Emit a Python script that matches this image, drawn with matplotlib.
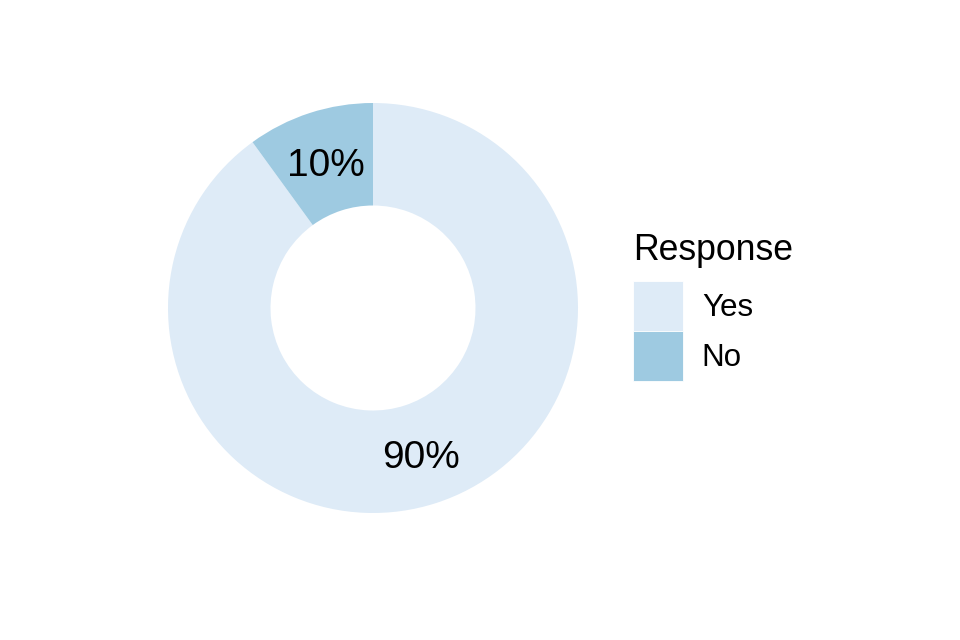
import matplotlib.pyplot as plt
from matplotlib.patches import Patch
import matplotlib.transforms as mtransforms
import numpy as np

plt.rcParams['font.family'] = ['Liberation Sans', 'DejaVu Sans']

# Données
reponses = ['Yes', 'No']
valeurs = [90, 10]
etiquettes = ['90%', '10%']
couleurs = ['#deebf7', '#9ecae1']

fig = plt.figure(figsize=(9.6, 6.4), dpi=100)

# Anneau centré vers (373, 308) px, rayon extérieur 205 px
ax = fig.add_axes([168 / 960, 127 / 640, 410 / 960, 410 / 640])
wedges, _ = ax.pie(valeurs, colors=couleurs, startangle=90, counterclock=False,
                   radius=1, wedgeprops=dict(width=0.5, edgecolor='none'))

# Étiquettes au milieu de l'anneau (chiffres centrés : ligne de base abaissée de la moitié de la hauteur)
decal = mtransforms.offset_copy(ax.transData, fig=fig, x=0, y=-0.358 * 28, units='points')
for w, lab in zip(wedges, etiquettes):
    ang = np.deg2rad((w.theta1 + w.theta2) / 2)
    ax.text(0.75 * np.cos(ang), 0.75 * np.sin(ang), lab, ha='center', va='baseline',
            fontsize=28, color='black', transform=decal)

ax.set_xlim(-1, 1)
ax.set_ylim(-1, 1)
ax.axis('off')

# Légende
fig.text(633 / 960, 1 - 260 / 640, 'Response', fontsize=25.7, ha='left', va='baseline')
poignees = [Patch(facecolor=c, edgecolor='white', linewidth=0.6) for c in couleurs]
fs = 22.6
fs_px = fs * 100 / 72
hh = (50 / fs_px - 0.245) / 0.65
fig.legend(poignees, reponses, loc='upper left', bbox_to_anchor=(633 / 960, 1 - 281 / 640),
           frameon=False, borderpad=0, borderaxespad=0, fontsize=fs,
           handlelength=50 / fs_px, handleheight=hh, handletextpad=0.6,
           labelspacing=0)

fig.savefig('out.png', dpi=100)
